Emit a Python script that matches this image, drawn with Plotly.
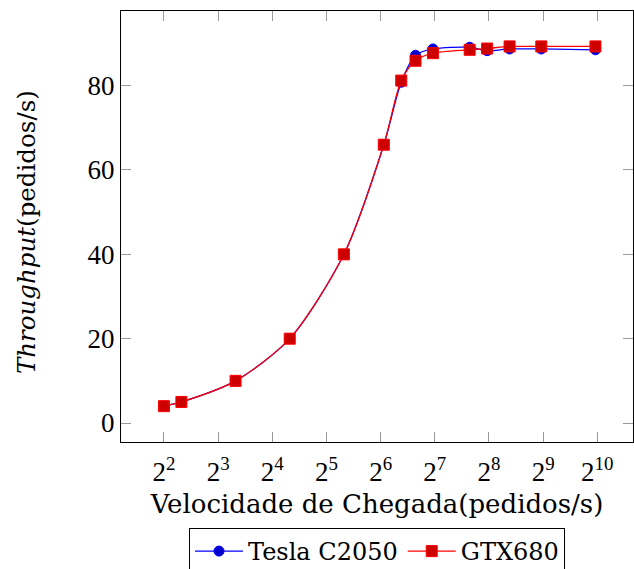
import plotly.graph_objects as go

# Arrival rate (requests/s) and measured throughput for each GPU
arrival_rate = [4, 5, 10, 20, 40, 1000/15, 1000/12, 100, 125, 200, 250, 1000/3, 500, 1000]
tesla_c2050 = [4, 5, 10, 20, 40, 66, 80.8, 87.2, 88.7, 89.1, 88.3, 88.7, 88.7, 88.5]
gtx680 = [4, 5, 10, 20, 40, 66, 81.2, 85.9, 87.7, 88.5, 88.8, 89.3, 89.3, 89.3]

x_tick_vals = [2 ** k for k in range(2, 11)]
x_tick_text = [f"2<sup>{k}</sup>" for k in range(2, 11)]
y_tick_vals = [0, 20, 40, 60, 80]

tick_font = dict(family="Liberation Serif", size=27, color="black")

fig = go.Figure()
fig.add_trace(go.Scatter(
    x=arrival_rate, y=tesla_c2050, name="Tesla C2050",
    mode="lines+markers",
    line=dict(color="#0000ff", width=1.3, shape="spline", smoothing=0.8),
    marker=dict(symbol="circle", size=10, color="#0000cc",
                line=dict(color="#0000ff", width=1)),
))
fig.add_trace(go.Scatter(
    x=arrival_rate, y=gtx680, name="GTX680",
    mode="lines+markers",
    line=dict(color="#ff0000", width=1.3, shape="spline", smoothing=0.8),
    marker=dict(symbol="square", size=11, color="#cc0000",
                line=dict(color="#ff0000", width=1)),
))

fig.update_layout(
    width=634, height=569,
    margin=dict(l=121, r=1, t=11, b=127, autoexpand=False),
    paper_bgcolor="white", plot_bgcolor="white",
    showlegend=True,
    legend=dict(
        orientation="h", x=0.5, xanchor="center",
        yref="container", y=1 - 528 / 569, yanchor="top",
        bordercolor="black", borderwidth=1, bgcolor="white",
        font=dict(family="DejaVu Serif", size=24, color="black"),
        itemwidth=48, tracegroupgap=0,
    ),
    annotations=[dict(
        text="<i>Throughput</i>(pedidos/s)", textangle=-90,
        xref="paper", yref="paper", x=(26 - 120.7) / 512.3, y=0.488,
        xanchor="center", yanchor="middle", showarrow=False,
        font=dict(family="DejaVu Serif", size=24.5, color="black"),
    )],
)
fig.update_xaxes(
    type="log", range=[0.3633, 3.2087],
    tickvals=x_tick_vals, ticktext=x_tick_text, tickfont=tick_font,
    ticks="inside", ticklen=10, tickwidth=1, tickcolor="#9a9a9a",
    ticklabelstandoff=6,
    showline=True, linecolor="black", linewidth=1, mirror="ticks",
    showgrid=False, zeroline=False, automargin=False,
    title=dict(text="Velocidade de Chegada(pedidos/s)",
               font=dict(family="DejaVu Serif", size=26, color="black"),
               standoff=8),
)
fig.update_yaxes(
    range=[-4.5, 97.7],
    tickvals=y_tick_vals, tickfont=tick_font,
    ticks="inside", ticklen=10, tickwidth=1, tickcolor="#9a9a9a",
    showline=True, linecolor="black", linewidth=1, mirror="ticks",
    showgrid=False, zeroline=False, automargin=False,
)

fig.write_html("out.html")
